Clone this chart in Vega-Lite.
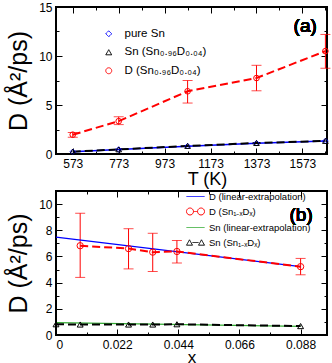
{
  "$schema": "https://vega.github.io/schema/vega-lite/v6.json",
  "padding": {"left": 5, "top": 0, "right": 0, "bottom": 0},
  "config": {
    "font": "Liberation Sans",
    "view": {"stroke": "black", "strokeWidth": 2},
    "axis": {"domain": false, "grid": false, "tickColor": "black", "labelColor": "black", "titleColor": "black", "titleFontWeight": "normal", "labelFontSize": 12, "tickWidth": 1}
  },
  "datasets": {
    "top": [
      {"s": "pure Sn", "T": 573, "D": 0.22},
      {"s": "pure Sn", "T": 773, "D": 0.45},
      {"s": "pure Sn", "T": 1073, "D": 0.8},
      {"s": "pure Sn", "T": 1373, "D": 1.1},
      {"s": "pure Sn", "T": 1673, "D": 1.32},
      {"s": "Sn (Sn₀.₉₆D₀.₀₄)", "T": 573, "D": 0.24},
      {"s": "Sn (Sn₀.₉₆D₀.₀₄)", "T": 773, "D": 0.47},
      {"s": "Sn (Sn₀.₉₆D₀.₀₄)", "T": 1073, "D": 0.82},
      {"s": "Sn (Sn₀.₉₆D₀.₀₄)", "T": 1373, "D": 1.12},
      {"s": "Sn (Sn₀.₉₆D₀.₀₄)", "T": 1673, "D": 1.33},
      {"s": "D (Sn₀.₉₆D₀.₀₄)", "T": 573, "D": 1.97, "lo": 1.72, "hi": 2.2},
      {"s": "D (Sn₀.₉₆D₀.₀₄)", "T": 773, "D": 3.35, "lo": 3.0, "hi": 3.8},
      {"s": "D (Sn₀.₉₆D₀.₀₄)", "T": 1073, "D": 6.4, "lo": 5.2, "hi": 7.5},
      {"s": "D (Sn₀.₉₆D₀.₀₄)", "T": 1373, "D": 7.75, "lo": 6.45, "hi": 9.05},
      {"s": "D (Sn₀.₉₆D₀.₀₄)", "T": 1673, "D": 10.5, "lo": 8.75, "hi": 12.2}
    ],
    "bot": [
      {"s": "D (linear-extrapolation)", "x": 0, "D": 7.48},
      {"s": "D (linear-extrapolation)", "x": 0.088, "D": 5.23},
      {"s": "D (Sn₁₋ₓDₓ)", "x": 0.0087, "D": 6.82, "lo": 4.4, "hi": 9.3},
      {"s": "D (Sn₁₋ₓDₓ)", "x": 0.0261, "D": 6.6, "lo": 5.05, "hi": 8.12},
      {"s": "D (Sn₁₋ₓDₓ)", "x": 0.0348, "D": 6.33, "lo": 4.85, "hi": 7.77},
      {"s": "D (Sn₁₋ₓDₓ)", "x": 0.0435, "D": 6.38, "lo": 5.5, "hi": 7.22},
      {"s": "D (Sn₁₋ₓDₓ)", "x": 0.088, "D": 5.22, "lo": 4.6, "hi": 5.85},
      {"s": "Sn (linear-extrapolation)", "x": 0, "D": 0.95},
      {"s": "Sn (linear-extrapolation)", "x": 0.088, "D": 0.66},
      {"s": "Sn (Sn₁₋ₓDₓ)", "x": 0, "D": 0.82},
      {"s": "Sn (Sn₁₋ₓDₓ)", "x": 0.0087, "D": 0.8},
      {"s": "Sn (Sn₁₋ₓDₓ)", "x": 0.0261, "D": 0.8},
      {"s": "Sn (Sn₁₋ₓDₓ)", "x": 0.0348, "D": 0.8},
      {"s": "Sn (Sn₁₋ₓDₓ)", "x": 0.0435, "D": 0.82},
      {"s": "Sn (Sn₁₋ₓDₓ)", "x": 0.088, "D": 0.68}
    ]
  },
  "bounds": "flush",
  "spacing": 37,
  "resolve": {
    "scale": {"x": "independent", "y": "independent", "color": "independent", "shape": "independent", "stroke": "independent", "strokeDash": "independent", "strokeWidth": "independent"},
    "legend": {"color": "independent", "shape": "independent", "stroke": "independent", "strokeDash": "independent", "strokeWidth": "independent"}
  },
  "vconcat": [
    {
      "width": 271,
      "height": 147,
      "data": {"name": "top"},
      "resolve": {"axis": {"x": "independent", "y": "independent"}},
      "layer": [
        {
          "transform": [{"filter": "isValid(datum.lo)"}],
          "mark": {"type": "errorbar", "orient": "vertical", "color": "#ff0000", "ticks": {"size": 10}, "thickness": 1},
          "encoding": {
            "x": {"field": "T", "type": "quantitative", "axis": null, "scale": {"domain": [500, 1680], "nice": false, "zero": false}},
            "y": {"field": "lo", "type": "quantitative", "axis": null, "scale": {"domain": [0, 15], "nice": false}},
            "y2": {"field": "hi"}
          }
        },
        {
          "transform": [{"filter": "datum.s == 'pure Sn'"}],
          "mark": {"type": "line", "strokeWidth": 1.5},
          "encoding": {
            "x": {"field": "T", "type": "quantitative", "axis": {"orient": "top", "values": [573, 673, 773, 873, 973, 1073, 1173, 1273, 1373, 1473, 1573, 1673], "labels": false, "title": null, "tickSize": {"condition": {"test": "datum.value % 200 == 173", "value": -6}, "value": -3}}},
            "y": {"field": "D", "type": "quantitative", "axis": {"orient": "right", "values": [0, 2.5, 5, 7.5, 10, 12.5, 15], "labels": false, "title": null, "tickSize": {"condition": {"test": "datum.value % 5 == 0", "value": -6}, "value": -3}}},
            "color": {"field": "s", "type": "nominal", "scale": {"domain": ["pure Sn", "Sn (Sn₀.₉₆D₀.₀₄)", "D (Sn₀.₉₆D₀.₀₄)"], "range": ["#0000ff", "#000000", "#ff0000"]}, "legend": {"orient": "none", "legendX": 47, "legendY": 21, "title": null, "labelFontSize": 11.5, "labelOffset": 10, "rowPadding": 5.5, "padding": 0, "symbolSize": 35, "symbolDash": [1, 0], "symbolStrokeWidth": 1, "labelColor": "black", "encode": {"symbols": {"update": {"shape": {"signal": "datum.value == 'pure Sn' ? 'diamond' : (datum.value == 'D (Sn₀.₉₆D₀.₀₄)' ? 'circle' : 'triangle-up')"}, "fill": {"value": "transparent"}, "strokeWidth": {"value": 1}, "strokeDash": {"value": [1, 0]}}}}}}
          }
        },
        {
          "transform": [{"filter": "datum.s != 'pure Sn'"}],
          "mark": {"type": "line", "strokeWidth": 2, "strokeDash": [8, 4]},
          "encoding": {
            "x": {"field": "T", "type": "quantitative", "axis": null},
            "y": {"field": "D", "type": "quantitative", "axis": null},
            "color": {"field": "s", "type": "nominal", "legend": null}
          }
        },
        {
          "mark": {"type": "point", "filled": false, "size": 32, "strokeWidth": 1, "opacity": 1},
          "encoding": {
            "x": {"field": "T", "type": "quantitative", "axis": {"orient": "bottom", "format": "d", "values": [573, 673, 773, 873, 973, 1073, 1173, 1273, 1373, 1473, 1573, 1673], "labelExpr": "datum.value % 200 == 173 ? datum.label : ''", "tickSize": {"condition": {"test": "datum.value % 200 == 173", "value": -6}, "value": -3}, "labelPadding": 10, "title": "T (K)", "titleFontSize": 18, "titlePadding": 1, "titleX": 151}},
            "y": {"field": "D", "type": "quantitative", "axis": {"orient": "left", "values": [0, 2.5, 5, 7.5, 10, 12.5, 15], "labelExpr": "datum.value % 5 == 0 ? datum.label : ''", "tickSize": {"condition": {"test": "datum.value % 5 == 0", "value": -6}, "value": -3}, "labelPadding": 10, "title": "D (Å²/ps)", "titleFontSize": 25, "titlePadding": 7}},
            "stroke": {"field": "s", "type": "nominal", "legend": null, "scale": {"domain": ["pure Sn", "Sn (Sn₀.₉₆D₀.₀₄)", "D (Sn₀.₉₆D₀.₀₄)"], "range": ["#0000ff", "#000000", "#ff0000"]}},
            "shape": {"field": "s", "type": "nominal", "legend": null, "scale": {"domain": ["pure Sn", "Sn (Sn₀.₉₆D₀.₀₄)", "D (Sn₀.₉₆D₀.₀₄)"], "range": ["diamond", "triangle-up", "circle"]}}
          }
        },
        {
          "mark": {"type": "text", "text": "(a)", "fontSize": 19, "fontWeight": "normal", "align": "center", "baseline": "middle", "color": "black"},
          "encoding": {
            "x": {"datum": 1585, "type": "quantitative", "axis": null},
            "y": {"datum": 13.1, "type": "quantitative", "axis": null}
          }
        }
      ]
    },
    {
      "width": 271,
      "height": 144,
      "data": {"name": "bot"},
      "resolve": {"axis": {"x": "independent", "y": "independent"}},
      "layer": [
        {
          "transform": [{"filter": "isValid(datum.lo)"}],
          "mark": {"type": "errorbar", "orient": "vertical", "color": "#ff0000", "ticks": {"size": 10}, "thickness": 1},
          "encoding": {
            "x": {"field": "x", "type": "quantitative", "axis": null, "scale": {"domain": [0, 0.0975], "nice": false, "zero": false}},
            "y": {"field": "lo", "type": "quantitative", "axis": null, "scale": {"domain": [0, 11], "nice": false}},
            "y2": {"field": "hi"}
          }
        },
        {
          "transform": [{"filter": "datum.s == 'D (linear-extrapolation)' || datum.s == 'Sn (linear-extrapolation)'"}],
          "mark": {"type": "line", "strokeWidth": 1.2},
          "encoding": {
            "x": {"field": "x", "type": "quantitative", "axis": {"orient": "top", "values": [0, 0.011, 0.022, 0.033, 0.044, 0.055, 0.066, 0.077, 0.088], "labels": false, "title": null, "tickSize": {"condition": {"test": "round(datum.value*1000) % 22 == 0", "value": -6}, "value": -3}}},
            "y": {"field": "D", "type": "quantitative", "axis": {"orient": "right", "values": [0, 1, 2, 3, 4, 5, 6, 7, 8, 9, 10], "labels": false, "title": null, "tickSize": {"condition": {"test": "datum.value % 2 == 0", "value": -6}, "value": -3}}},
            "color": {"field": "s", "type": "nominal", "scale": {"domain": ["D (linear-extrapolation)", "D (Sn₁₋ₓDₓ)", "Sn (linear-extrapolation)", "Sn (Sn₁₋ₓDₓ)"], "range": ["#0000ff", "#ff0000", "#33aa33", "#000000"]}, "legend": {"orient": "none", "legendX": 133, "legendY": -1, "title": null, "labelFontSize": 9.5, "labelOffset": 7, "rowPadding": 4, "padding": 0, "symbolSize": 144, "symbolDash": [1, 0], "symbolStrokeWidth": 1, "labelColor": "black", "encode": {"symbols": {"update": {"shape": {"signal": "(datum.value == 'D (linear-extrapolation)' || datum.value == 'Sn (linear-extrapolation)') ? 'M-1.5,0L1.5,0' : (datum.value == 'D (Sn₁₋ₓDₓ)' ? 'M-1.5,0A0.58,0.58,0,1,1,-0.34,0A0.58,0.58,0,1,1,-1.5,0M-0.34,0L0.34,0M0.34,0A0.58,0.58,0,1,1,1.5,0A0.58,0.58,0,1,1,0.34,0' : 'M-1.5,0.45L-1,-0.45L-0.5,0.45ZM-0.5,0L0.5,0M0.5,0.45L1,-0.45L1.5,0.45Z')"}, "fill": {"value": "transparent"}, "strokeWidth": {"value": 1}, "strokeDash": {"value": [1, 0]}}}}}}
          }
        },
        {
          "transform": [{"filter": "datum.s == 'D (Sn₁₋ₓDₓ)' || datum.s == 'Sn (Sn₁₋ₓDₓ)'"}],
          "mark": {"type": "line", "strokeWidth": 2, "strokeDash": [8, 4]},
          "encoding": {
            "x": {"field": "x", "type": "quantitative", "axis": null},
            "y": {"field": "D", "type": "quantitative", "axis": null},
            "color": {"field": "s", "type": "nominal", "legend": null}
          }
        },
        {
          "transform": [{"filter": "datum.s == 'D (Sn₁₋ₓDₓ)'"}],
          "mark": {"type": "point", "shape": "circle", "filled": false, "size": 40, "strokeWidth": 1, "color": "#ff0000", "opacity": 1},
          "encoding": {
            "x": {"field": "x", "type": "quantitative", "axis": {"orient": "bottom", "values": [0, 0.011, 0.022, 0.033, 0.044, 0.055, 0.066, 0.077, 0.088], "labelExpr": "round(datum.value*1000) % 22 == 0 ? format(datum.value, '.3~f') : ''", "tickSize": {"condition": {"test": "round(datum.value*1000) % 22 == 0", "value": -6}, "value": -3}, "labelPadding": 10, "title": "x", "titleFontSize": 17, "titleBaseline": "alphabetic", "titlePadding": 12}},
            "y": {"field": "D", "type": "quantitative", "axis": {"orient": "left", "values": [0, 1, 2, 3, 4, 5, 6, 7, 8, 9, 10], "labelExpr": "datum.value % 2 == 0 ? datum.label : ''", "tickSize": {"condition": {"test": "datum.value % 2 == 0", "value": -6}, "value": -3}, "labelPadding": 10, "title": "D (Å²/ps)", "titleFontSize": 25, "titlePadding": 7}}
          }
        },
        {
          "transform": [{"filter": "datum.s == 'Sn (Sn₁₋ₓDₓ)'"}],
          "mark": {"type": "point", "shape": "triangle-up", "filled": false, "size": 35, "strokeWidth": 1, "color": "#000000", "opacity": 1},
          "encoding": {
            "x": {"field": "x", "type": "quantitative", "axis": null},
            "y": {"field": "D", "type": "quantitative", "axis": null}
          }
        },
        {
          "mark": {"type": "text", "text": "(b)", "fontSize": 19, "fontWeight": "normal", "align": "center", "baseline": "middle", "color": "black"},
          "encoding": {
            "x": {"datum": 0.0882, "type": "quantitative", "axis": null},
            "y": {"datum": 9.2, "type": "quantitative", "axis": null}
          }
        }
      ]
    }
  ]
}
